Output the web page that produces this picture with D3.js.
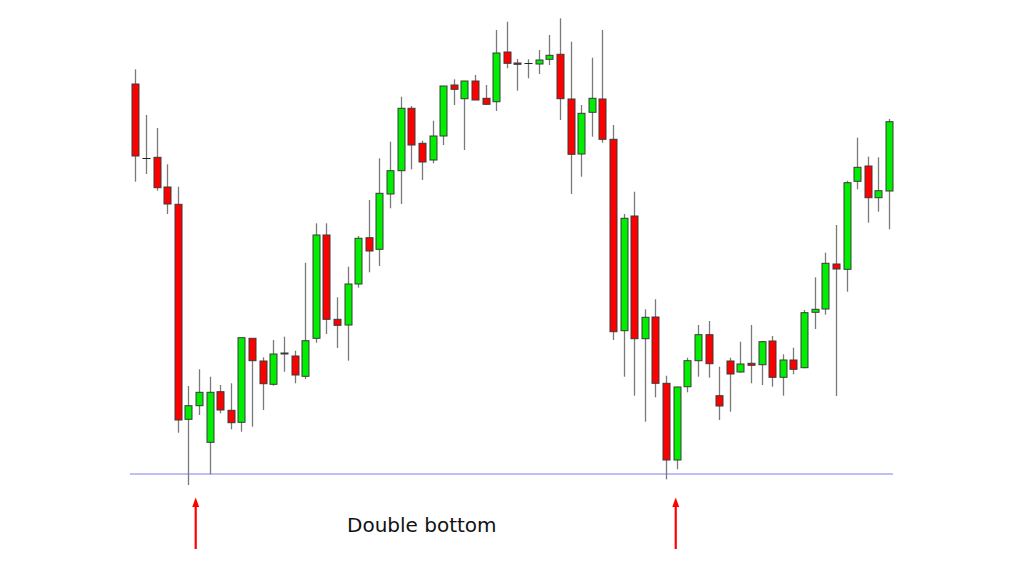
<!DOCTYPE html>
<html>
<head>
<meta charset="utf-8">
<script src="https://cdn.jsdelivr.net/npm/d3@7"></script>
<style>
  html, body { margin: 0; padding: 0; background: #ffffff; }
  svg { display: block; }
</style>
</head>
<body>
<svg id="chart" width="1024" height="576"></svg>
<script>
const openP  = [416,341.5,342.7,313,295.7,80.7,94.3,57.7,108.3,89.7,
  77.7,161.7,139,115.7,147,144,123.7,161.7,265,180.7,
  175,216,262.3,250.7,306,329.3,391.7,356.7,340,364,
  415,401.3,419,401.7,398.3,448,437,436.5,436,440.7,
  445.7,401,346,387.7,401,360.7,169.3,284,161.3,183,
  116.7,40,113.3,139.3,165.3,104.3,139,128,136.7,135.3,
  159,122.7,140,132.3,187.7,191,236,230.7,318.7,334,
  302.3,309];
const highP  = [430.7,385,372,335.7,313.3,114,130.7,123.3,115,116.7,
  162.3,161.7,142.7,160,163.3,149.3,237.3,276.7,276.7,202.7,
  233.3,264,300,341.7,358.3,403.3,394,359.3,379.3,414,
  420.7,419,425,415,470,478.3,441,440.7,450,465,
  481.7,458.3,395,442.3,470,375,286,308.3,190.7,200.7,
  124.3,113.3,142.3,175,179,133.3,142.3,158.3,175,159,
  164,145.7,152.3,190,222.7,247.3,275,319.3,362.3,343.3,
  342.7,381];
const lowP   = [318.3,326,309.3,286,67.3,15,85,25.7,86.7,70.7,
  68.3,73.3,90,114.3,128.3,116.7,121,157.3,166,152,
  139.3,212.3,227.7,234,291.7,296,330.7,320,336.7,355,
  395,350,400,395,389,431.7,409.3,421.7,426,435,
  380,306,323.3,363.3,357.3,160,123.3,104.3,78.3,102.7,
  20.7,30.7,107.7,123.3,122.3,80,88.3,127.3,116.7,115,
  113.3,104.3,125.7,131.7,171,185.3,104,208.3,310.7,277.3,
  288.3,270.7];
const closeP = [344,341.5,312.3,296,80,94.3,107.7,107.7,90,77.3,
  162.3,139.3,116.3,146,146,125,159.3,265,180.7,174.7,
  216,261.7,249,306.7,329.3,391.7,355,338,364,414,
  410.7,419,400,395.7,447,436.7,435.7,436.5,440,444.7,
  401.3,345.7,386.7,401.7,360.7,168.3,281.7,161.3,182.7,116.7,
  40,113,139.3,165.3,136.3,94,126,136,134.7,158.3,
  122.7,140,130.7,187.3,190.7,236.7,231,317.3,332.7,302.3,
  309.3,378.3];
const supportLevel = 26;
const arrowAt = [5.69, 50.91];
const labelText = "Double bottom";

const candles = openP.map((o, i) => ({ i, o, h: highP[i], l: lowP[i], c: closeP[i] }));

const svg = d3.select("#chart");
const x = d3.scaleLinear().domain([0, candles.length - 1]).range([135.3, 889]);
const y = d3.scaleLinear().domain([0, 500]).range([500, 0]);
const bodyW = 7;

// support line
svg.append("line")
  .attr("x1", 130).attr("x2", 893)
  .attr("y1", y(supportLevel)).attr("y2", y(supportLevel))
  .attr("stroke", "#7f7ff7").attr("stroke-width", 1.2);

const g = svg.append("g");
// wicks
g.selectAll("line.wick").data(candles).join("line")
  .attr("class", "wick")
  .attr("x1", d => Math.round(x(d.i)) + 0.5).attr("x2", d => Math.round(x(d.i)) + 0.5)
  .attr("y1", d => y(d.h)).attr("y2", d => y(d.l))
  .attr("stroke", "#7a7a7a").attr("stroke-width", 1.3);
// bodies
g.selectAll("rect.body").data(candles).join("rect")
  .attr("class", "body")
  .attr("x", d => Math.round(x(d.i)) + 0.5 - bodyW / 2)
  .attr("width", bodyW)
  .attr("y", d => y(Math.max(d.o, d.c)))
  .attr("height", d => Math.max(0.01, Math.abs(y(d.o) - y(d.c))))
  .attr("fill", d => d.c > d.o ? "#00ee00" : "#ff0000")
  .attr("stroke", d => d.c === d.o ? "#222222" : "#3a3a3a")
  .attr("stroke-width", 1);

// arrows
arrowAt.forEach(a => {
  const ax = x(a);
  svg.append("line")
    .attr("x1", ax).attr("x2", ax)
    .attr("y1", 505).attr("y2", 549)
    .attr("stroke", "#ff0000").attr("stroke-width", 2.2);
  svg.append("path")
    .attr("d", `M${ax - 3.5},507 L${ax},497.5 L${ax + 3.5},507 Z`)
    .attr("fill", "#ff0000");
});

svg.append("text")
  .attr("x", 347).attr("y", 531.5)
  .attr("font-family", "DejaVu Sans, Verdana, sans-serif")
  .attr("font-size", 20)
  .attr("fill", "#111111")
  .text(labelText);
</script>
</body>
</html>
